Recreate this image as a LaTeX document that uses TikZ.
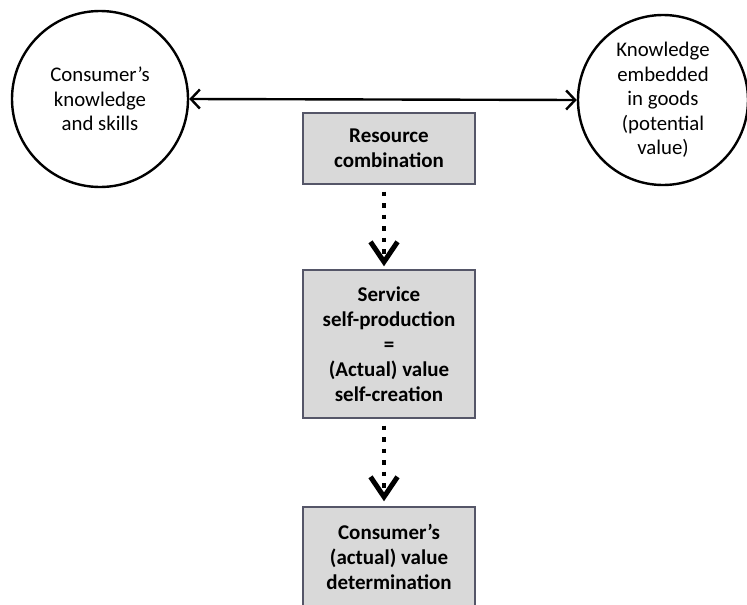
\documentclass[tikz,border=0pt]{standalone}
\usepackage{fontspec}
\setmainfont{Carlito}
\usetikzlibrary{arrows.meta}
\definecolor{boxfill}{HTML}{D9D9D9}
\definecolor{boxline}{HTML}{555668}
\tikzset{
  txt/.style={font=\fontsize{20.8}{24.5}\selectfont, align=center},
  resource/.style={circle, draw=black, line width=2.4pt, fill=white, inner sep=0pt, txt},
  stage/.style={rectangle, draw=boxline, line width=1.4pt, fill=boxfill, minimum width=172pt,
                inner sep=0pt, txt, font=\fontsize{21}{25}\selectfont\bfseries},
  link/.style={line width=2.4pt, arrows={Straight Barb[length=9pt,width=19pt,line width=2.4pt]-Straight Barb[length=9pt,width=19pt,line width=2.4pt]}},
  flow/.style={line width=4.5pt, line cap=butt, dash pattern=on 4.5pt off 7pt,
               arrows={-Straight Barb[length=20pt,width=27pt,line width=5pt]}}
}
\begin{document}
\begin{tikzpicture}[x=1pt,y=-1pt]
  \useasboundingbox (0,0) rectangle (747,605);
  \clip (0,0) rectangle (747,605);
  \fill[white] (0,0) rectangle (747,605);

  % resources on either side
  \node[resource, minimum size=176pt] (know) at (100,99) {Consumer’s\\knowledge\\and skills};
  \node[resource, minimum size=170pt] (goods) at (663,100) {Knowledge\\embedded\\in goods\\(potential\\value)};

  % process steps
  \node[stage, minimum height=71pt] (comb) at (389,148.5) {Resource\\combination};
  \node[stage, minimum height=148pt] (prod) at (389,344) {Service\\self-production\\=\\(Actual) value\\self-creation};
  \node[stage, minimum height=100pt] (det) at (389,557) {Consumer’s\\(actual) value\\determination};

  % connectors
  \draw[flow] ([xshift=-5pt,yshift=-7pt]comb.south) -- ([xshift=-5pt,yshift=3pt]prod.north);
  \draw[flow] ([xshift=-5pt,yshift=-7pt]prod.south) -- ([xshift=-5pt,yshift=5pt]det.north);
  \draw[link] (know.east) -- (goods.west);
\end{tikzpicture}
\end{document}
